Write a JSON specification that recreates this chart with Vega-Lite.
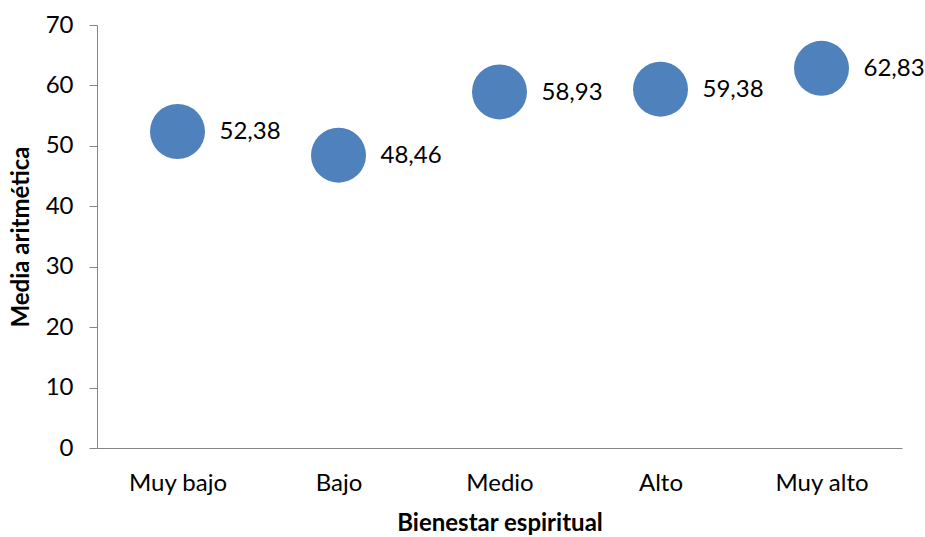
{
  "$schema": "https://vega.github.io/schema/vega-lite/v6.json",
  "autosize": "none",
  "padding": {"left": 97, "top": 25, "right": 23, "bottom": 89},
  "width": 805,
  "height": 423,
  "background": "white",
  "config": {
    "view": {"stroke": null},
    "font": "Lato",
    "axis": {
      "labelFont": "Lato",
      "titleFont": "Lato",
      "labelFontSize": 24,
      "titleFontSize": 24,
      "labelColor": "#000000",
      "titleColor": "#000000",
      "titleFontWeight": "bold",
      "domainColor": "#868686",
      "tickColor": "#868686",
      "grid": false
    }
  },
  "data": {
    "values": [
      {"cat": "Muy bajo", "media": 52.38, "label": "52,38"},
      {"cat": "Bajo", "media": 48.46, "label": "48,46"},
      {"cat": "Medio", "media": 58.93, "label": "58,93"},
      {"cat": "Alto", "media": 59.38, "label": "59,38"},
      {"cat": "Muy alto", "media": 62.83, "label": "62,83"}
    ]
  },
  "encoding": {
    "x": {
      "field": "cat",
      "type": "nominal",
      "sort": null,
      "scale": {"paddingInner": 0, "paddingOuter": 0},
      "axis": {
        "title": "Bienestar espiritual",
        "labelAngle": 0,
        "ticks": false,
        "labelPadding": 23,
        "titlePadding": 16
      }
    },
    "y": {
      "field": "media",
      "type": "quantitative",
      "scale": {"domain": [0, 70], "nice": false},
      "axis": {
        "title": "Media aritmética",
        "values": [0, 10, 20, 30, 40, 50, 60, 70],
        "tickSize": 8,
        "labelPadding": 16,
        "titlePadding": 12
      }
    }
  },
  "layer": [
    {
      "mark": {"type": "point", "filled": true, "shape": "circle", "size": 3025, "color": "#4F81BD", "opacity": 1}
    },
    {
      "mark": {"type": "text", "align": "left", "baseline": "middle", "dx": 42, "dy": 1, "fontSize": 24, "font": "Lato", "color": "#000000"},
      "encoding": {"text": {"field": "label"}}
    }
  ]
}
